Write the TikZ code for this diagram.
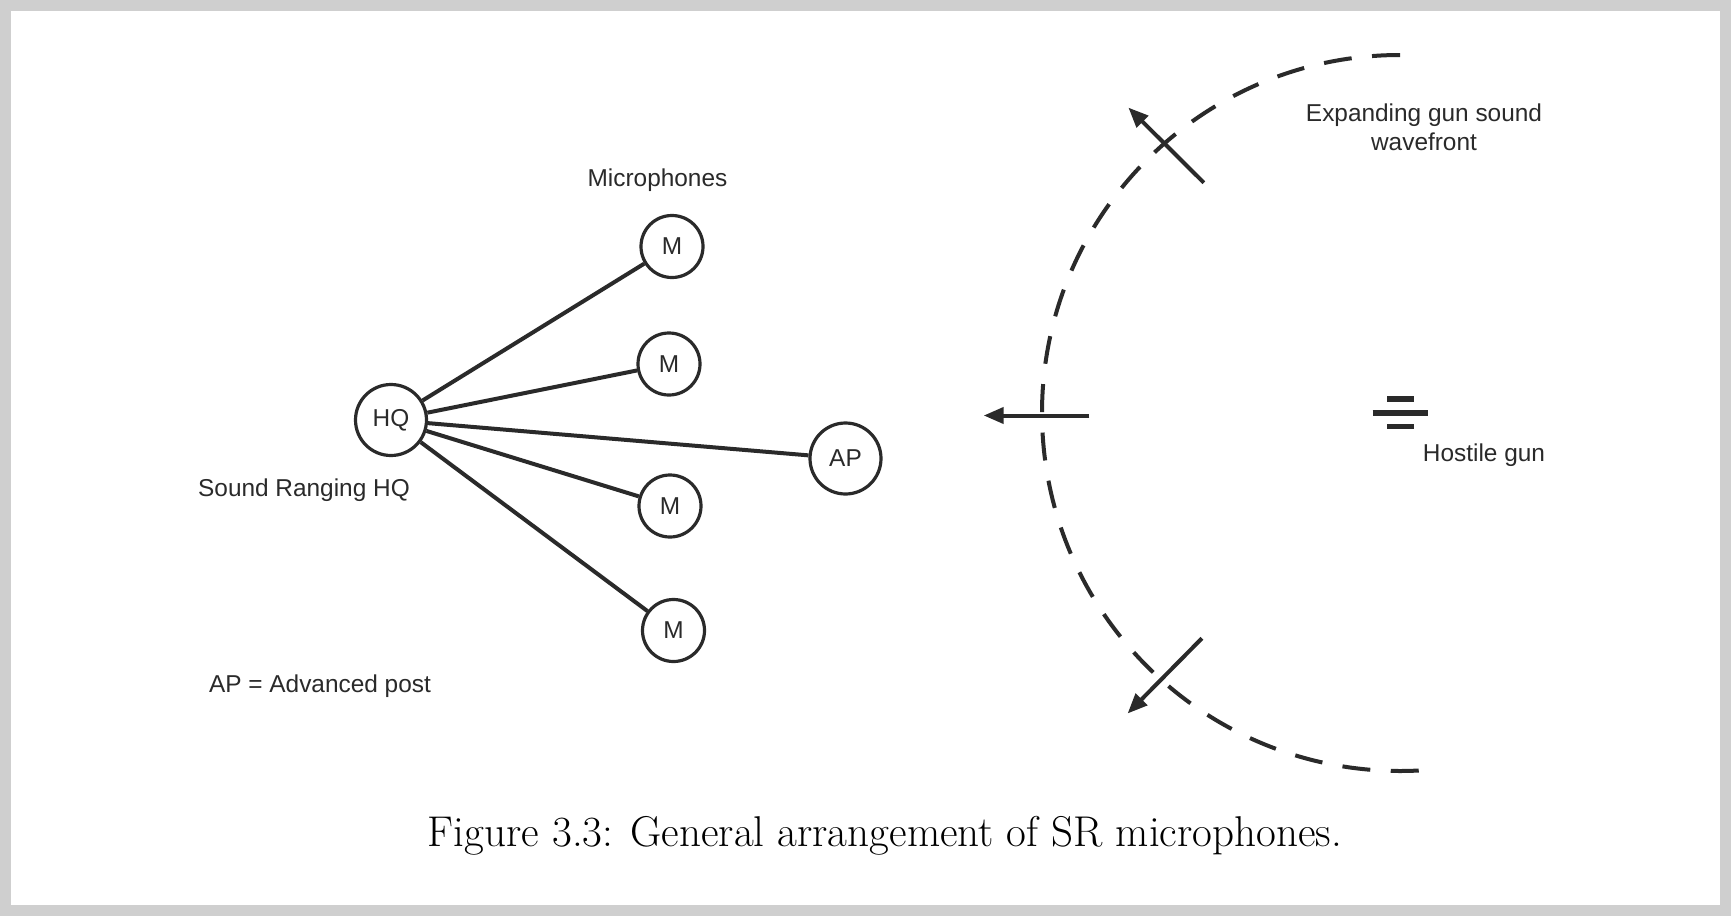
\documentclass[tikz,border=0pt]{standalone}
\usepackage{fontspec}
\setsansfont{Liberation Sans}
\usetikzlibrary{arrows.meta}
\definecolor{ink}{HTML}{2A2A2A}
\definecolor{frame}{HTML}{CFCFCF}
\begin{document}
\begin{tikzpicture}[x=0.5pt,y=-0.5pt,
  lbl/.style={font=\sffamily\fontsize{12.2pt}{14.5pt}\selectfont, text=ink, inner sep=0pt, align=center},
  stn/.style={circle, draw=ink, line width=1.6pt, inner sep=0pt, font=\sffamily\fontsize{12.2pt}{14.5pt}\selectfont, text=ink},
  mic/.style={stn, minimum size=31pt},
  hq/.style={stn, minimum size=35.5pt},
  link/.style={draw=ink, line width=2pt},
  wave/.style={draw=ink, line width=2pt, dash pattern=on 14pt off 10.25pt},
  ray/.style={draw=ink, line width=2pt, -{Triangle[length=10pt,width=8pt]}},
  bar/.style={draw=ink, line width=2.6pt}
]
\fill[frame] (0,0) rectangle (1731,916);
\fill[white] (11,11) rectangle (1720,905);
\useasboundingbox (0,0) rectangle (1731,916);

% stations
\node[hq]  (HQ) at (391,420) {HQ};
\node[mic] (M1) at (672,246.5) {M};
\node[mic] (M2) at (669,364) {M};
\node[hq]  (AP) at (845.5,458.5) {AP};
\node[mic] (M3) at (670,506) {M};
\node[mic] (M4) at (673.5,630.5) {M};

\draw[link] (HQ) -- (M1);
\draw[link] (HQ) -- (M2);
\draw[link] (HQ) -- (AP);
\draw[link] (HQ) -- (M3);
\draw[link] (HQ) -- (M4);

% labels
\node[lbl] (lmic) at (657.5,180) {Microphones};
\node[lbl] (lhq)  at (304,490) {Sound Ranging HQ};
\node[lbl] (lap)  at (320,686.5) {AP = Advanced post};
\node[lbl] (lwave) at (1424,127) {Expanding gun sound\\wavefront};
\node[lbl] (lgun) at (1484,455) {Hostile gun};

% hostile gun symbol
\coordinate (G) at (1400,413);
\draw[bar] (1387,399) -- (1413.5,399);
\draw[bar] (1372.5,413) -- (1427.5,413);
\draw[bar] (1387,426.5) -- (1413.5,426.5);

% wavefront
\coordinate (W0) at (1400,55);
\draw[wave] (W0) arc[start angle=90, end angle=273, radius=179pt];

% propagation arrows
\coordinate (A1s) at (1203.8,182.7);
\coordinate (A1e) at (1128.4,107.6);
\coordinate (A2s) at (1089.4,415.5);
\coordinate (A2e) at (983.7,415.5);
\coordinate (A3s) at (1201.9,638.3);
\coordinate (A3e) at (1127.6,713.5);
\draw[ray] (A1s) -- (A1e);
\draw[ray] (A2s) -- (A2e);
\draw[ray] (A3s) -- (A3e);

% caption
\node[inner sep=0pt, text=black] (cap) at (885,836)
  {\resizebox{457pt}{!}{\rmfamily\fontsize{20pt}{24pt}\selectfont Figure 3.3: General arrangement of SR microphones.}};
\end{tikzpicture}
\end{document}
